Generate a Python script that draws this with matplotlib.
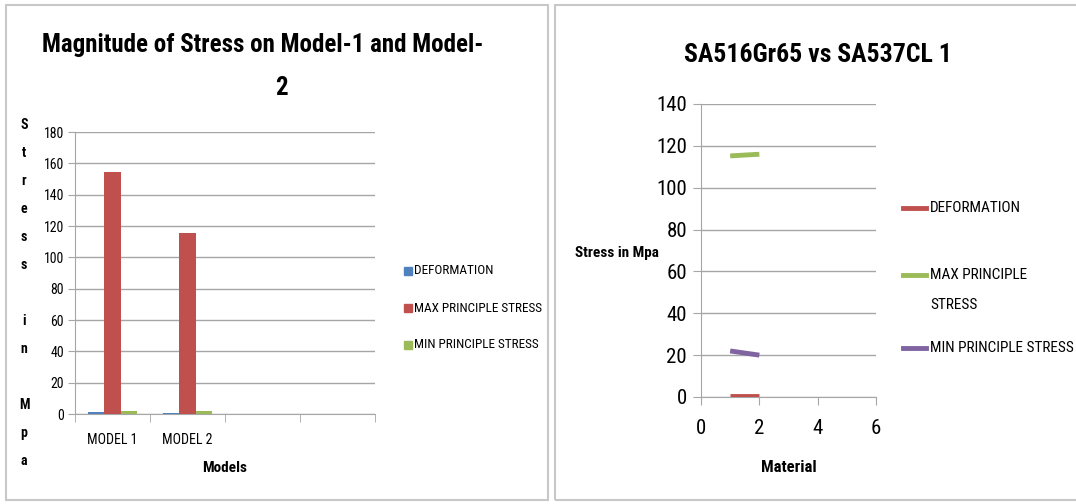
import numpy as np
import matplotlib
matplotlib.use("Agg")
import matplotlib.pyplot as plt
from matplotlib import font_manager
from matplotlib.patches import Rectangle
from matplotlib.lines import Line2D

# pick a narrow font if one is there
names = {f.name for f in font_manager.fontManager.ttflist}
FONT = "DejaVu Sans"
for n in ["Liberation Sans Narrow", "Roboto Condensed", "Open Sans Condensed", "Liberation Sans"]:
    if n in names:
        FONT = n
        break
plt.rcParams["font.family"] = [FONT, "DejaVu Sans"]

# left chart data
models = ["MODEL 1", "MODEL 2", "", ""]
deformation = [1.0, 0.4, 0, 0]
max_stress = [154.5, 115.5, 0, 0]
min_stress = [1.8, 1.6, 0, 0]

# right chart data
material = [1, 2]
r_deformation = [0.5, 0.5]
r_max = [115.2, 116.0]
r_min = [22.0, 20.0]

BLUE = "#4f81bd"
RED = "#c0504d"
GREEN = "#9bbb59"
PURPLE = "#8064a2"
GRID = "#a6a6a6"

W, H = 1076, 504
fig = plt.figure(figsize=(W / 100, H / 100), dpi=100)

def fx(px):
    return px / W

def fy(py):
    return 1 - py / H

# panel frames
fig.patches.append(Rectangle((fx(6), fy(500)), fx(542), 495 / H, transform=fig.transFigure,
                             fill=False, edgecolor="#c8c8c8", linewidth=1.5))
fig.patches.append(Rectangle((fx(555), fy(500)), fx(530), 495 / H, transform=fig.transFigure,
                             fill=False, edgecolor="#c8c8c8", linewidth=1.5))

# ---------------- left bar chart ----------------
ax1 = fig.add_axes([fx(75), fy(414), fx(300), 282 / H])
x = np.arange(len(models))
bw = 0.22
ax1.bar(x - bw, deformation, bw, color=BLUE, label="DEFORMATION", zorder=3)
ax1.bar(x, max_stress, bw, color=RED, label="MAX PRINCIPLE STRESS", zorder=3)
ax1.bar(x + bw, min_stress, bw, color=GREEN, label="MIN PRINCIPLE STRESS", zorder=3)
ax1.set_xlim(-0.5, 3.5)
ax1.set_ylim(0, 180)
ax1.set_yticks(np.arange(0, 181, 20))
ax1.yaxis.grid(True, color=GRID, linewidth=1.0)
ax1.set_axisbelow(True)
ax1.set_xticks(x)
ax1.set_xticklabels(models, fontsize=10)
ax1.set_xticks(np.arange(-0.5, 4, 1), minor=True)
ax1.tick_params(axis="x", which="major", length=0, pad=14)
ax1.tick_params(axis="x", which="minor", length=6, color=GRID)
ax1.tick_params(axis="y", length=5, color=GRID, labelsize=10, pad=3)
for s in ["top", "right"]:
    ax1.spines[s].set_visible(False)
for s in ["left", "bottom"]:
    ax1.spines[s].set_color(GRID)
ax1.set_xlabel("Models", fontsize=11, fontweight="bold", labelpad=10)
fig.text(fx(263), fy(45), "Magnitude of Stress on Model-1 and Model-", ha="center", va="center",
         fontsize=18, fontweight="bold")
fig.text(fx(281), fy(88), "2", ha="center", va="center", fontsize=18, fontweight="bold")
ylab = ["S", "t", "r", "e", "s", "s", "", "i", "n", "", "M", "p", "a"]
for i, ch in enumerate(ylab):
    fig.text(fx(24), fy(125 + i * 28), ch, ha="center", va="center", fontsize=10, fontweight="bold")

labels = ["DEFORMATION", "MAX PRINCIPLE STRESS", "MIN PRINCIPLE STRESS"]
for i, (c, lab) in enumerate(zip([BLUE, RED, GREEN], labels)):
    yy = 271 + i * 37
    fig.patches.append(Rectangle((fx(404), fy(yy + 4)), fx(8), 8 / H, transform=fig.transFigure, color=c))
    fig.text(fx(414), fy(yy), lab, ha="left", va="center", fontsize=9.5)

# ---------------- right line chart ----------------
ax2 = fig.add_axes([fx(701), fy(397), fx(175), 293 / H])
ax2.plot(material, r_deformation, color=RED, linewidth=3.5, solid_capstyle="butt", zorder=3)
ax2.plot(material, r_max, color=GREEN, linewidth=3.5, solid_capstyle="butt", zorder=3)
ax2.plot(material, r_min, color=PURPLE, linewidth=3.5, solid_capstyle="butt", zorder=3)
ax2.set_xlim(0, 6)
ax2.set_ylim(0, 140)
ax2.set_xticks([0, 2, 4, 6])
ax2.set_yticks(np.arange(0, 141, 20))
ax2.yaxis.grid(True, color=GRID, linewidth=1.0)
ax2.set_axisbelow(True)
ax2.tick_params(axis="both", length=6, color=GRID, labelsize=15)
ax2.tick_params(axis="x", pad=10)
ax2.tick_params(axis="y", pad=4)
for s in ["top", "right"]:
    ax2.spines[s].set_visible(False)
for s in ["left", "bottom"]:
    ax2.spines[s].set_color(GRID)
ax2.set_xlabel("Material", fontsize=12, fontweight="bold", labelpad=16)
fig.text(fx(617), fy(253), "Stress in Mpa", ha="center", va="center", fontsize=11, fontweight="bold")
fig.text(fx(818), fy(55), "SA516Gr65 vs SA537CL 1", ha="center", va="center", fontsize=18.5, fontweight="bold")

leg = [(RED, ["DEFORMATION"], 208), (GREEN, ["MAX PRINCIPLE", "STRESS"], 275), (PURPLE, ["MIN PRINCIPLE STRESS"], 348)]
for c, lines, yy in leg:
    fig.add_artist(Line2D([fx(903), fx(926)], [fy(yy), fy(yy)], color=c, linewidth=3.5, transform=fig.transFigure))
    for j, t in enumerate(lines):
        fig.text(fx(930), fy(yy + j * 30), t, ha="left", va="center", fontsize=11)

fig.savefig("out.png", dpi=100)
